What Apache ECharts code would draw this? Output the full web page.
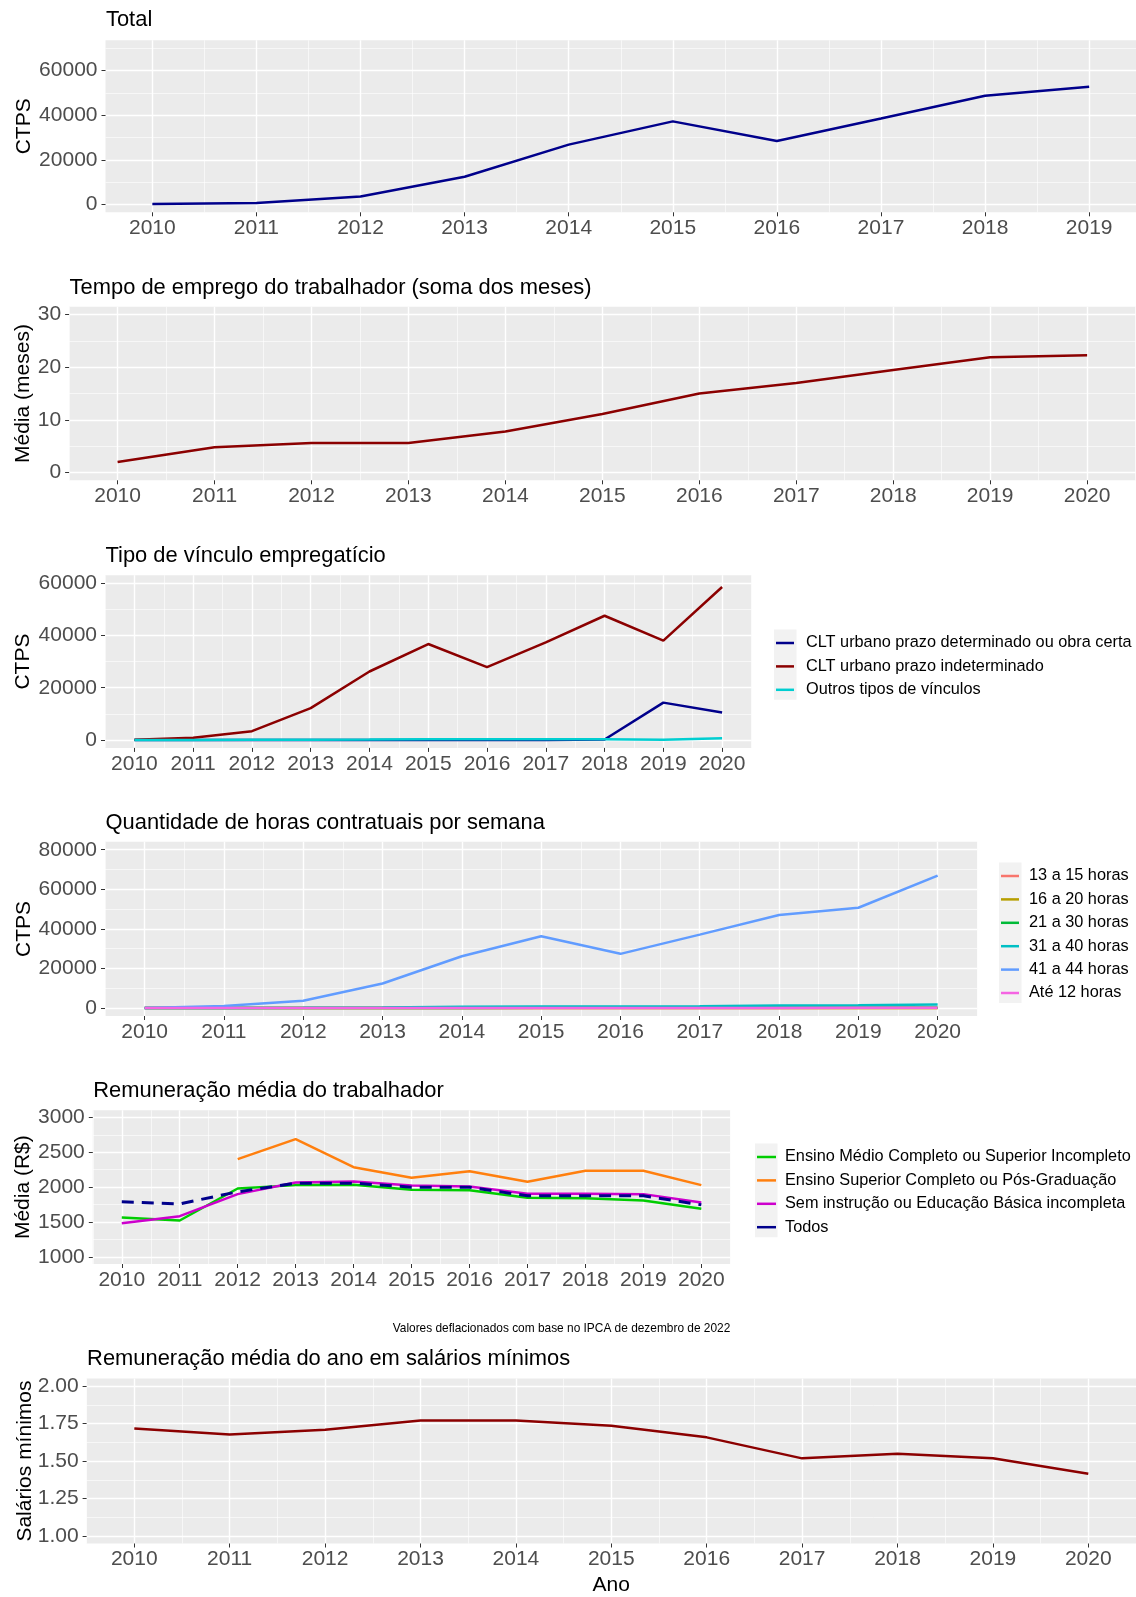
<!DOCTYPE html>
<html>
<head>
<meta charset="utf-8">
<script src="https://cdn.jsdelivr.net/npm/echarts@6/dist/echarts.min.js"></script>
<style>
html, body { margin: 0; padding: 0; background: #fff; }
#chart { width: 1136px; height: 1597px; }
</style>
</head>
<body>
<div id="chart"></div>
<script>
// anos
var anos = [2010, 2011, 2012, 2013, 2014, 2015, 2016, 2017, 2018, 2019, 2020];
var anosTotal = [2010, 2011, 2012, 2013, 2014, 2015, 2016, 2017, 2018, 2019];

// Total (CTPS)
var total = [200, 700, 3600, 12400, 26800, 37200, 28400, 38500, 48700, 52700];

// Tempo de emprego (media em meses)
var tempoMeses = [2.0, 4.8, 5.6, 5.6, 7.8, 11.1, 15.0, 17.0, 19.5, 21.9, 22.3];

// Tipo de vinculo
var vincDeterminado = [0, 0, 0, 0, 0, 0, 0, 0, 200, 14300, 10500];
var vincIndeterminado = [100, 900, 3400, 12200, 26200, 36700, 27900, 37300, 47500, 38000, 58500];
var vincOutros = [0, 50, 100, 150, 200, 300, 350, 350, 350, 150, 650];

// Horas contratuais
var horas13a15 = [0, 0, 10, 20, 30, 30, 30, 30, 40, 40, 50];
var horas16a20 = [0, 5, 20, 40, 60, 60, 60, 60, 70, 80, 90];
var horas21a30 = [0, 10, 30, 60, 100, 120, 110, 120, 150, 160, 180];
var horas31a40 = [10, 50, 150, 350, 700, 800, 800, 900, 1300, 1400, 1800];
var horas41a44 = [0, 1000, 3700, 12400, 26200, 36300, 27400, 37100, 47000, 50700, 66900];
var horasAte12 = [0, 5, 20, 50, 80, 90, 80, 90, 100, 110, 120];

// Remuneracao media (R$)
var remMedio = [1566, 1523, 1981, 2029, 2033, 1962, 1957, 1847, 1840, 1809, 1690];
var remSuperior = [null, null, 2401, 2687, 2286, 2134, 2229, 2076, 2234, 2234, 2029];
var remSemInstrucao = [1484, 1585, 1900, 2067, 2081, 2024, 2010, 1905, 1905, 1900, 1780];
var remTodos = [1790, 1761, 1933, 2057, 2057, 2000, 2000, 1876, 1876, 1876, 1747];

// Salarios minimos
var salariosMinimos = [1.717, 1.677, 1.708, 1.770, 1.770, 1.736, 1.658, 1.518, 1.548, 1.518, 1.416];

var fonte = '"Liberation Sans", Arial, sans-serif';

function pares(xs, ys) {
  return xs.map(function (x, i) { return [x, ys[i]]; });
}
function meios(xs) {
  var r = [];
  for (var i = 0; i < xs.length - 1; i++) r.push((xs[i] + xs[i + 1]) / 2);
  return r;
}

var paineis = [
  { titulo: 'Total', left: 105.5, top: 40.3, width: 1031, height: 172, tTop: 9,
    xmin: 2009.55, xmax: 2019.45, xs: anosTotal,
    ymin: -3500, ymax: 73500, yMaj: [0, 20000, 40000, 60000], yNome: 'CTPS', yGap: 71 },
  { titulo: 'Tempo de emprego do trabalhador (soma dos meses)', left: 69.1, top: 306.8, width: 1066.5, height: 173.5, tTop: 276.5,
    xmin: 2009.5, xmax: 2020.5, xs: anos,
    ymin: -1.5, ymax: 31.5, yMaj: [0, 10, 20, 30], yNome: 'Média (meses)', yGap: 35 },
  { titulo: 'Tipo de vínculo empregatício', left: 105, top: 575.2, width: 646.5, height: 172.7, tTop: 544.5,
    xmin: 2009.5, xmax: 2020.5, xs: anos,
    ymin: -3000, ymax: 63000, yMaj: [0, 20000, 40000, 60000], yNome: 'CTPS', yGap: 71 },
  { titulo: 'Quantidade de horas contratuais por semana', left: 105, top: 841.8, width: 872.3, height: 174.2, tTop: 811.5,
    xmin: 2009.5, xmax: 2020.5, xs: anos,
    ymin: -4000, ymax: 84000, yMaj: [0, 20000, 40000, 60000, 80000], yNome: 'CTPS', yGap: 70.5 },
  { titulo: 'Remuneração média do trabalhador', left: 92.8, top: 1110.3, width: 637.5, height: 153.7, tTop: 1080,
    xmin: 2009.5, xmax: 2020.5, xs: anos,
    ymin: 900, ymax: 3100, yMaj: [1000, 1500, 2000, 2500, 3000], yNome: 'Média (R$)', yGap: 59.5 },
  { titulo: 'Remuneração média do ano em salários mínimos', left: 86.6, top: 1378.6, width: 1050, height: 174.5, tTop: 1347.5,
    xmin: 2009.5, xmax: 2020.5, xs: anos,
    ymin: 0.95, ymax: 2.05, yMaj: [1.00, 1.25, 1.50, 1.75, 2.00], yNome: 'Salários mínimos', yGap: 51,
    yFmt: function (v) { return v.toFixed(2); }, xNome: 'Ano' }
];

var grids = [], xAxes = [], yAxes = [], titulos = [], xMinors = [], yMinors = [];
paineis.forEach(function (p, i) {
  grids.push({ left: p.left, top: p.top, width: p.width, height: p.height,
    show: true, backgroundColor: '#EBEBEB', borderWidth: 0 });
  titulos.push({ text: p.titulo, left: p.left + 0.5, top: p.tTop, padding: 0,
    textStyle: { fontFamily: fonte, fontSize: 21.9, fontWeight: 'normal', color: '#000' } });
  var xMin = meios(p.xs).concat([p.xs[0] - 0.5, p.xs[p.xs.length - 1] + 0.5]);
  var yMin = meios(p.yMaj).concat([p.yMaj[p.yMaj.length - 1] + (p.yMaj[1] - p.yMaj[0]) / 2]);
  xAxes.push({
    gridIndex: i, type: 'value', min: p.xmin, max: p.xmax,
    name: p.xNome || '', nameLocation: 'middle', nameGap: 31.5, nameMoveOverlap: false,
    nameTextStyle: { fontFamily: fonte, fontSize: 21, color: '#000' },
    axisLine: { show: false, onZero: false },
    axisTick: { show: true, length: 4, lineStyle: { color: '#333333' }, customValues: p.xs },
    axisLabel: { customValues: p.xs, margin: 5.5, color: '#4D4D4D', fontFamily: fonte, fontSize: 21,
      formatter: function (v) { return String(v); } },
    splitLine: { show: true, lineStyle: { color: '#FFFFFF', width: 1.4 } }
  });
  xMinors.push({
    gridIndex: i, type: 'value', min: p.xmin, max: p.xmax,
    axisLine: { show: false, onZero: false },
    axisTick: { show: false, customValues: xMin },
    axisLabel: { show: false },
    splitLine: { show: true, lineStyle: { color: 'rgba(255,255,255,0.85)', width: 0.7 } }
  });
  yAxes.push({
    gridIndex: i, type: 'value', min: p.ymin, max: p.ymax,
    name: p.yNome, nameLocation: 'middle', nameGap: p.yGap, nameMoveOverlap: false,
    nameTextStyle: { fontFamily: fonte, fontSize: 21, color: '#000' },
    axisLine: { show: false, onZero: false },
    axisTick: { show: true, length: 4, lineStyle: { color: '#333333' }, customValues: p.yMaj },
    axisLabel: { customValues: p.yMaj, margin: 8, color: '#4D4D4D', fontFamily: fonte, fontSize: 21,
      formatter: p.yFmt || function (v) { return String(v); } },
    splitLine: { show: true, lineStyle: { color: '#FFFFFF', width: 1.4 } }
  });
  yMinors.push({
    gridIndex: i, type: 'value', min: p.ymin, max: p.ymax,
    axisLine: { show: false, onZero: false },
    axisTick: { show: false, customValues: yMin },
    axisLabel: { show: false },
    splitLine: { show: true, lineStyle: { color: 'rgba(255,255,255,0.85)', width: 0.7 } }
  });
});

function linha(nome, painel, ys, cor, extra) {
  var s = {
    name: nome, type: 'line', xAxisIndex: painel, yAxisIndex: painel,
    data: pares(paineis[painel].xs, ys), showSymbol: false, symbol: 'none',
    itemStyle: { color: cor }, lineStyle: { color: cor, width: 2.5 }
  };
  if (extra) s.lineStyle.type = extra;
  return s;
}

var series = [
  linha('Total', 0, total, '#00008B'),
  linha('Tempo', 1, tempoMeses, '#8B0000'),
  linha('CLT urbano prazo determinado ou obra certa', 2, vincDeterminado, '#00008B'),
  linha('CLT urbano prazo indeterminado', 2, vincIndeterminado, '#8B0000'),
  linha('Outros tipos de vínculos', 2, vincOutros, '#00CED1'),
  linha('13 a 15 horas', 3, horas13a15, '#F8766D'),
  linha('16 a 20 horas', 3, horas16a20, '#B79F00'),
  linha('21 a 30 horas', 3, horas21a30, '#00BA38'),
  linha('31 a 40 horas', 3, horas31a40, '#00BFC4'),
  linha('41 a 44 horas', 3, horas41a44, '#619CFF'),
  linha('Até 12 horas', 3, horasAte12, '#F564E3'),
  linha('Ensino Médio Completo ou Superior Incompleto', 4, remMedio, '#00CD00'),
  linha('Ensino Superior Completo ou Pós-Graduação', 4, remSuperior, '#FF7F0E'),
  linha('Sem instrução ou Educação Básica incompleta', 4, remSemInstrucao, '#CD00CD'),
  linha('Todos', 4, remTodos, '#00008B', [12, 8]),
  linha('Salários', 5, salariosMinimos, '#8B0000')
];
series[14].lineStyle.width = 3;

function legenda(nomes, left, top, itemWidth, folga) {
  return {
    data: nomes, orient: 'vertical', left: left, top: top, padding: 0,
    itemWidth: itemWidth, itemHeight: 2.5, itemGap: 7.4, icon: 'rect',
    selectedMode: false,
    textStyle: { fontFamily: fonte, fontSize: 16.3, lineHeight: 16, color: '#000', padding: [0, 0, 0, folga] }
  };
}

// fundo cinza das chaves da legenda (estilo ggplot)
function fundoChave(x, y, w, h) {
  return { type: 'rect', z: 0, silent: true, shape: { x: x, y: y, width: w, height: h },
    style: { fill: '#F2F2F2' } };
}

var option = {
  animation: false,
  backgroundColor: '#FFFFFF',
  textStyle: { fontFamily: fonte },
  title: titulos,
  grid: grids,
  xAxis: xAxes.concat(xMinors),
  yAxis: yAxes.concat(yMinors),
  legend: [
    legenda(['CLT urbano prazo determinado ou obra certa', 'CLT urbano prazo indeterminado', 'Outros tipos de vínculos'], 776, 635, 18, 7),
    legenda(['13 a 15 horas', '16 a 20 horas', '21 a 30 horas', '31 a 40 horas', '41 a 44 horas', 'Até 12 horas'], 1001, 868, 18, 5),
    legenda(['Ensino Médio Completo ou Superior Incompleto', 'Ensino Superior Completo ou Pós-Graduação', 'Sem instrução ou Educação Básica incompleta', 'Todos'], 757, 1149, 19, 4)
  ],
  graphic: [
    fundoChave(774, 629.6, 22.5, 70.2),
    fundoChave(999, 862.4, 22.5, 140.6),
    fundoChave(755, 1143.6, 22.5, 93.6),
    {
      type: 'text', x: 730.3, y: 1328.5,
      style: { text: 'Valores deflacionados com base no IPCA de dezembro de 2022',
        align: 'right', verticalAlign: 'middle', font: '11.9px ' + fonte, fill: '#000' }
    }
  ],
  series: series
};

var chart = echarts.init(document.getElementById('chart'));
chart.setOption(option);
</script>
</body>
</html>
